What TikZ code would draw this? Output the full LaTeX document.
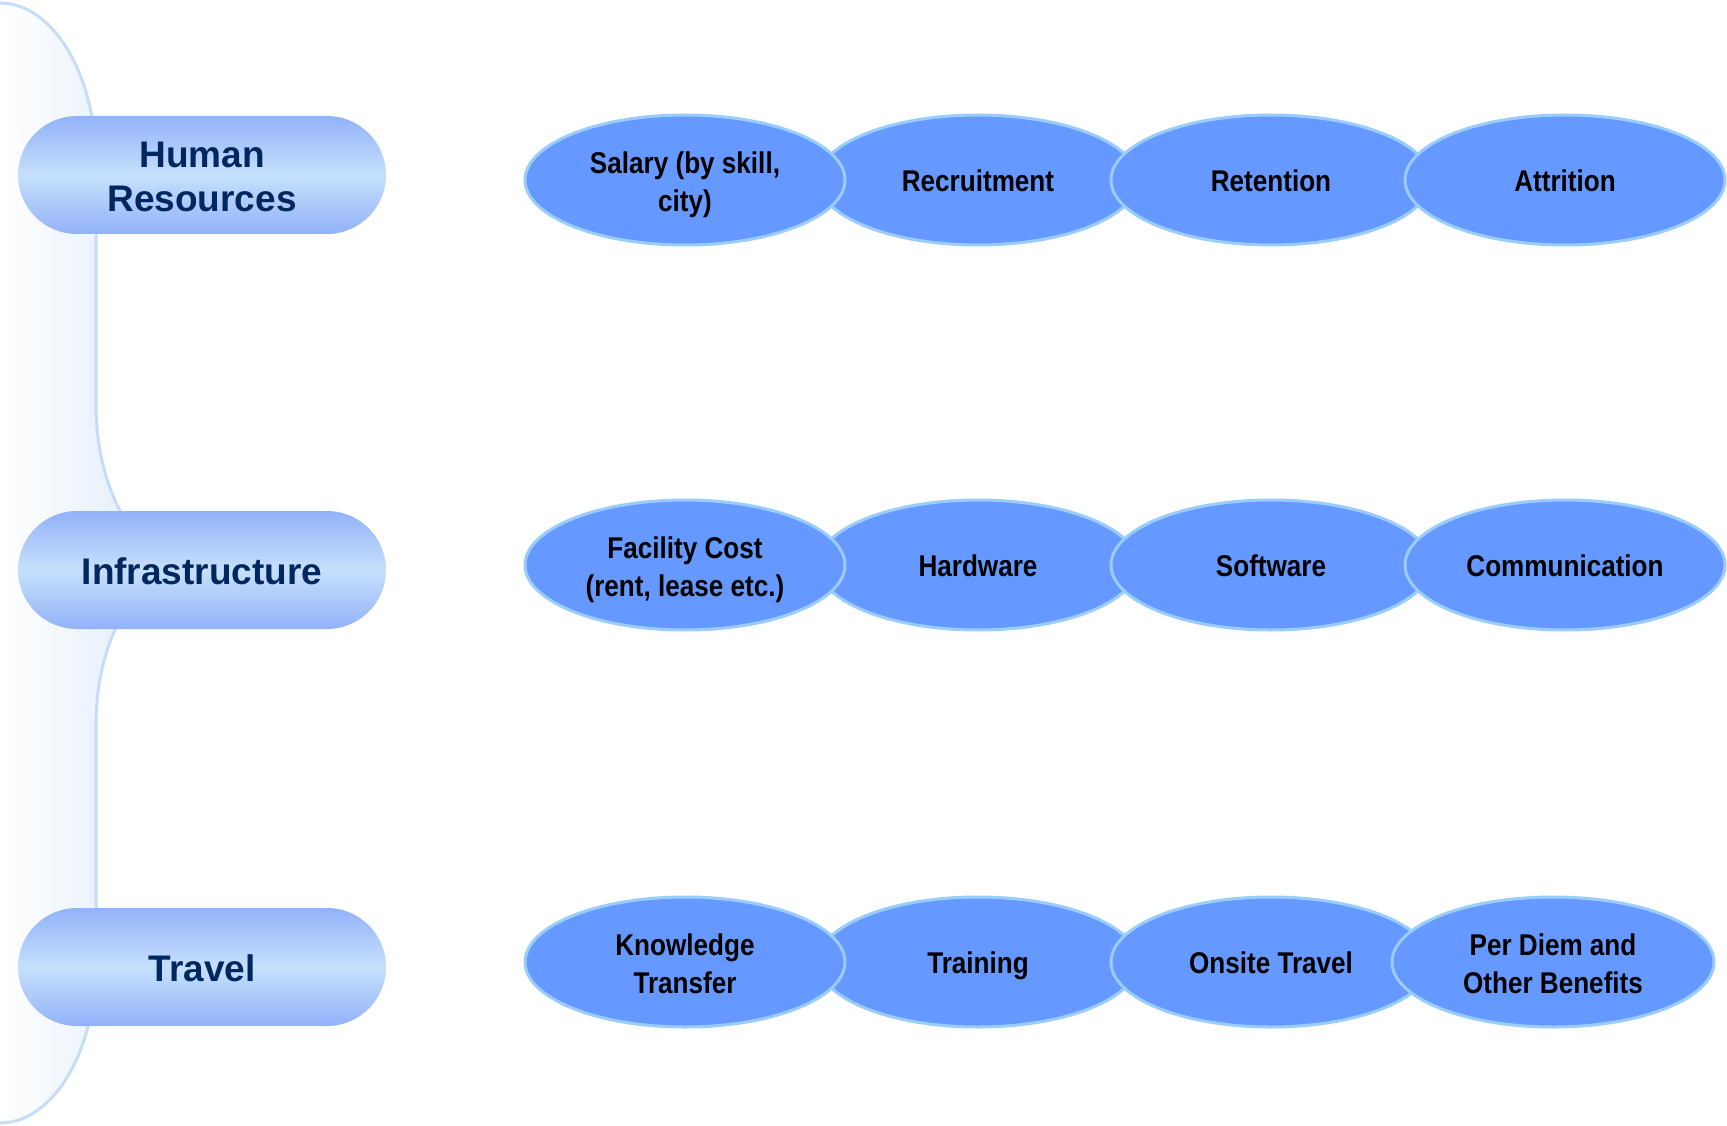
\documentclass[tikz,border=0pt]{standalone}
\usepackage{fontspec}
\setmainfont{Liberation Sans}
\newfontfamily\ovalfont[FakeStretch=0.87]{Liberation Sans Bold}
\usetikzlibrary{shapes.geometric}

\definecolor{braceline}{RGB}{198,221,248}
\definecolor{bracefill}{RGB}{218,232,250}
\definecolor{pilledge}{RGB}{146,178,250}
\definecolor{pillmid}{RGB}{198,224,251}
\definecolor{pilltext}{RGB}{0,40,95}
\definecolor{ovalfill}{RGB}{102,153,255}
\definecolor{ovalline}{RGB}{153,204,255}

% invisible rules that fix the line boxes of the labels
\newcommand\ovalstrut{\rule[-7pt]{0pt}{37pt}}
\newcommand\pillstrut{\rule[-9pt]{0pt}{47.5pt}}
% first line of two-line labels
\newcommand\firstoval{\rule{0pt}{32pt}}
\newcommand\firstpill{\rule{0pt}{37.5pt}}

\tikzset{
  category/.style={rectangle, rounded corners=59pt, minimum width=368pt,
    minimum height=118pt, inner sep=0pt,
    top color=pilledge, bottom color=pilledge, middle color=pillmid,
    text=pilltext, font=\bfseries\fontsize{37}{44}\selectfont, align=center,
    execute at begin node=\pillstrut, execute at end node=\pillstrut},
  item/.style={ellipse, minimum width=320pt, minimum height=130pt, inner sep=0pt,
    fill=ovalfill, draw=ovalline, line width=3pt,
    font=\ovalfont\fontsize{30}{38}\selectfont, align=center,
    execute at begin node=\ovalstrut, execute at end node=\ovalstrut}
}

\begin{document}
\begin{tikzpicture}[x=1pt,y=-1pt]
  \useasboundingbox (0,0) rectangle (1727,1126);
  \fill[white] (0,0) rectangle (1727,1126);

  % right brace grouping the three categories
  \shade[left color=white, right color=bracefill]
    (0,3) .. controls (53,3) and (96,75) .. (96,163)
    -- (96,405) .. controls (96,493) and (139,565) .. (192,565)
    .. controls (139,565) and (96,637) .. (96,725)
    -- (96,963) .. controls (96,1051) and (53,1123) .. (0,1123) -- cycle;
  \draw[braceline, line width=3pt]
    (0,3) .. controls (53,3) and (96,75) .. (96,163)
    -- (96,405) .. controls (96,493) and (139,565) .. (192,565)
    .. controls (139,565) and (96,637) .. (96,725)
    -- (96,963) .. controls (96,1051) and (53,1123) .. (0,1123);

  % categories
  \node[category] (hr) at (202,175) {\firstpill Human\\Resources};
  \node[category] (infra) at (202,570) {Infrastructure};
  \node[category] (travel) at (202,967) {Travel};

  % human resources items
  \node[item] (recruit) at (978,180) {Recruitment};
  \node[item] (salary) at (685,180) {\firstoval Salary (by skill,\\city)};
  \node[item] (retention) at (1271,180) {Retention};
  \node[item] (attrition) at (1565,180) {Attrition};

  % infrastructure items
  \node[item] (hardware) at (978,565) {Hardware};
  \node[item] (facility) at (685,565) {\firstoval Facility Cost\\(rent, lease etc.)};
  \node[item] (software) at (1271,565) {Software};
  \node[item] (comm) at (1565,565) {Communication};

  % travel items
  \node[item] (training) at (978,962) {Training};
  \node[item] (knowledge) at (685,962) {\firstoval Knowledge\\Transfer};
  \node[item] (onsite) at (1271,962) {Onsite Travel};
  \node[item, minimum width=322pt] (perdiem) at (1553,962) {\firstoval Per Diem and\\Other Benefits};
\end{tikzpicture}
\end{document}
